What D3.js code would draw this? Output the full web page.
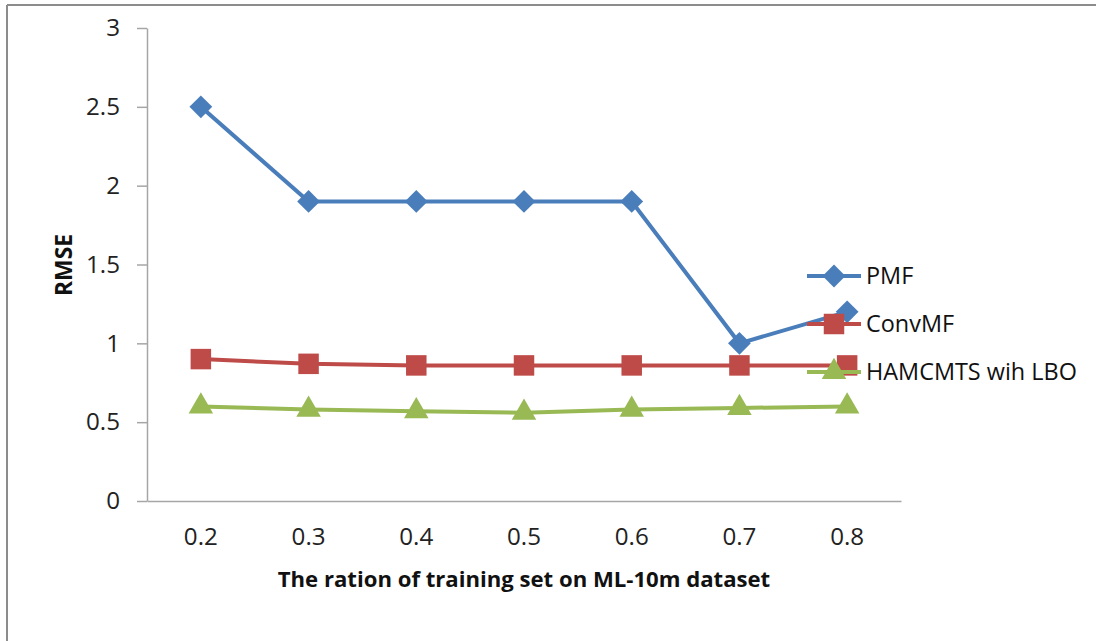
<!DOCTYPE html>
<html>
<head>
<meta charset="utf-8">
<script src="https://cdn.jsdelivr.net/npm/d3@7"></script>
<style>
  body { margin: 0; background: #fff; }
  svg { display: block; font-family: "Open Sans", sans-serif; }
</style>
</head>
<body>
<svg id="chart" width="1096" height="641"></svg>
<script>
// Data
const categories = ['0.2', '0.3', '0.4', '0.5', '0.6', '0.7', '0.8'];
const pmf = [2.5, 1.9, 1.9, 1.9, 1.9, 1.0, 1.2];
const convmf = [0.9, 0.87, 0.86, 0.86, 0.86, 0.86, 0.86];
const hamcmts = [0.6, 0.58, 0.57, 0.56, 0.58, 0.59, 0.6];
const yTicks = [0, 0.5, 1, 1.5, 2, 2.5, 3];

// diamond = square turned 45deg, like the Excel marker
const series = [
    { name: 'PMF', values: pmf, color: '#4a7ebb', symbol: d3.symbolSquare, size: 260, rot: 45 },
    { name: 'ConvMF', values: convmf, color: '#be4b48', symbol: d3.symbolSquare, size: 420, rot: 0 },
    { name: 'HAMCMTS wih LBO', values: hamcmts, color: '#98b954', symbol: d3.symbolTriangle, size: 260, rot: 0 }
];

const svg = d3.select('#chart');

// scale a text's font so that it spans the given width
function fitFont(sel, width) {
    const len = sel.node().getComputedTextLength();
    const fs = parseFloat(sel.attr('font-size'));
    return fs * width / len;
}

// outer frame (only top and left edges visible)
svg.append('line').attr('x1', 7).attr('x2', 1096).attr('y1', 5).attr('y2', 5)
    .attr('stroke', '#8c8c8c').attr('stroke-width', 2);
svg.append('line').attr('x1', 7).attr('x2', 7).attr('y1', 5).attr('y2', 641)
    .attr('stroke', '#8c8c8c').attr('stroke-width', 2);

const plotLeft = 147, plotRight = 901, plotTop = 28, plotBottom = 501;

const x = d3.scaleBand().domain(categories).range([plotLeft, plotRight]);
const y = d3.scaleLinear().domain([0, 3]).range([plotBottom, plotTop]);
const cx = d => x(d) + x.bandwidth() / 2;

// y axis
const yAxis = svg.append('g')
    .attr('transform', `translate(${plotLeft},0)`)
    .call(d3.axisLeft(y).tickValues(yTicks).tickFormat(d3.format('')).tickSize(10).tickSizeOuter(0).tickPadding(17));
yAxis.select('.domain').attr('stroke', '#a6a6a6').attr('stroke-width', 1.5);
yAxis.selectAll('.tick line').attr('stroke', '#a6a6a6').attr('stroke-width', 1.5);

// x axis
const xAxis = svg.append('g')
    .attr('transform', `translate(0,${plotBottom})`)
    .call(d3.axisBottom(x).tickSize(0).tickSizeOuter(0).tickPadding(0));
xAxis.select('.domain').attr('stroke', '#a6a6a6').attr('stroke-width', 1.5);

// tick label size taken from the width of "0.8" (~34px)
const probe = svg.append('text').attr('font-size', 20).text('0.8');
const tickFs = fitFont(probe, 34);
probe.remove();
yAxis.selectAll('text').attr('font-size', tickFs).attr('fill', '#222').attr('font-family', '"Open Sans", sans-serif');
xAxis.selectAll('text').attr('font-size', tickFs).attr('fill', '#222').attr('font-family', '"Open Sans", sans-serif')
    .attr('y', 36).attr('dy', '0.32em');

// axis titles
const xTitle = svg.append('text')
    .attr('x', 524).attr('y', 587)
    .attr('text-anchor', 'middle')
    .attr('font-size', 20).attr('font-weight', 'bold').attr('fill', '#111')
    .text('The ration of training set on ML-10m dataset');
xTitle.attr('font-size', fitFont(xTitle, 493));

const yTitle = svg.append('text')
    .attr('transform', 'translate(72,265) rotate(-90)')
    .attr('text-anchor', 'middle')
    .attr('font-size', 20).attr('font-weight', 'bold').attr('fill', '#111')
    .text('RMSE');
yTitle.attr('font-size', fitFont(yTitle, 62));

const line = d3.line().x((d, i) => cx(categories[i])).y(d => y(d));

// legend rows
const legendY = [276, 324, 372];
const legendText = [];

series.forEach((s, k) => {
    svg.append('path')
        .datum(s.values)
        .attr('d', line)
        .attr('fill', 'none')
        .attr('stroke', s.color)
        .attr('stroke-width', 4);

    svg.append('g').selectAll('path')
        .data(s.values)
        .join('path')
        .attr('d', d3.symbol().type(s.symbol).size(s.size))
        .attr('transform', (d, i) => `translate(${cx(categories[i])},${y(d)}) rotate(${s.rot})`)
        .attr('fill', s.color);

    const ly = legendY[k];
    svg.append('line').attr('x1', 807).attr('x2', 861).attr('y1', ly).attr('y2', ly)
        .attr('stroke', s.color).attr('stroke-width', 4);
    svg.append('path')
        .attr('d', d3.symbol().type(s.symbol).size(s.size))
        .attr('transform', `translate(834,${ly}) rotate(${s.rot})`)
        .attr('fill', s.color);
    legendText.push(svg.append('text')
        .attr('x', 866).attr('y', ly)
        .attr('dy', '0.36em')
        .attr('font-size', 20).attr('fill', '#111')
        .text(s.name));
});

// legend font from the width of the longest entry (~211px)
const legFs = fitFont(legendText[2], 211);
legendText.forEach(t => t.attr('font-size', legFs));
</script>
</body>
</html>
